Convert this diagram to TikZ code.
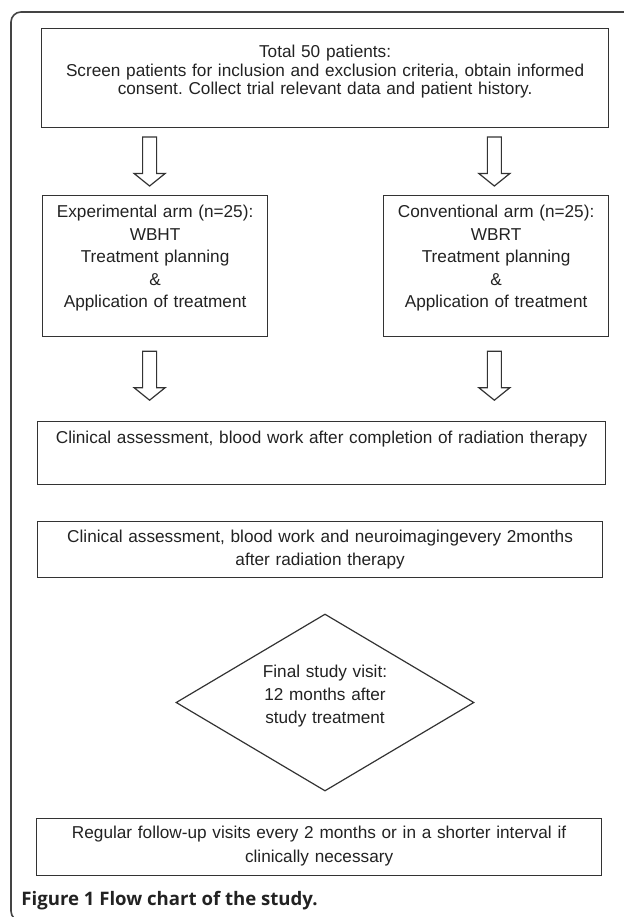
\documentclass[tikz,border=0pt]{standalone}
\usepackage{fontspec}
\setmainfont{Liberation Sans}
\newfontfamily\capfont{Open Sans}
\usetikzlibrary{shapes.geometric, calc}
\definecolor{linegray}{HTML}{333333}
\definecolor{textgray}{HTML}{222222}
\definecolor{framegray}{HTML}{444444}
\frenchspacing

\begin{document}
\begin{tikzpicture}[
    x=0.5pt, y=-0.5pt,
    box/.style={rectangle, draw=linegray, line width=0.6pt, align=center, inner sep=0pt, anchor=north west, text=textgray, font=\fontsize{8.6}{11.25}\selectfont},
    decision/.style={diamond, draw=linegray, line width=0.6pt, align=center, inner sep=0pt, aspect=1.68, minimum width=149pt, minimum height=88.5pt, text width=65pt, text=textgray, font=\fontsize{8.6}{11.5}\selectfont},
    hollow/.style={draw=linegray, line width=0.6pt, fill=white, to path={($(\tikztostart)+(-7,0)$) -- ($(\tikztotarget)+(-7,-12.5)$) -- ++(-8.5,0) -- (\tikztotarget) -- ($(\tikztotarget)+(15.5,-12.5)$) -- ++(-8.5,0) -- ($(\tikztostart)+(7,0)$) -- cycle}},
    frame/.style={draw=framegray, line width=0.8pt, rounded corners=5pt},
    caption/.style={font=\capfont\bfseries\fontsize{9.3}{11}\selectfont, text=textgray, inner sep=0pt, anchor=base west}
]
    \useasboundingbox (0,0) rectangle (624,917);

    % Outer frame
    \begin{scope}
        \clip (0,0) rectangle (624,917);
        \draw[frame] (630,12) -- (11,12) -- (11,921) -- (40,921);
    \end{scope}

    % Boxes
    \node[box, inner ysep=5.25pt, text width=283.5pt, text height=9.25pt, text depth=29.75pt, font=\fontsize{8.6}{9.25}\selectfont] (top) at (41,28) {Total 50 patients:\\Screen patients for inclusion and exclusion criteria, obtain informed\\consent. Collect trial relevant data and patient history.};
    \node[box, text width=112.5pt, text height=11.25pt, text depth=59.5pt] (exp) at (42,194.5) {Experimental arm (n=25):\\WBHT\\Treatment planning\\\&\\Application of treatment};
    \node[box, text width=112.5pt, text height=11.25pt, text depth=59.5pt] (conv) at (383,194.5) {Conventional arm (n=25):\\WBRT\\Treatment planning\\\&\\Application of treatment};
    \node[box, text width=284pt, text height=11pt, text depth=20.5pt] (clinA) at (37,421) {Clinical assessment, blood work after completion of radiation therapy};
    \node[box, text width=282.5pt, text height=10.5pt, text depth=17.5pt, font=\fontsize{8.6}{11.5}\selectfont] (clinB) at (37,521) {Clinical assessment, blood work and neuroimagingevery 2months\\after radiation therapy};
    \node[decision, text height=6pt, text depth=31.5pt] (final) at (325,702.5) {Final study visit:\\12 months after\\study treatment};
    \node[box, text width=282.5pt, text height=10pt, text depth=18.5pt, font=\fontsize{8.6}{12}\selectfont] (follow) at (36,818) {Regular follow-up visits every 2 months or in a shorter interval if\\clinically necessary};

    % Caption
    \node[caption] (cap) at (21,905) {Figure 1 Flow chart of the study.};

    % Arrow ends
    \coordinate (a1s) at ($(exp.north)+(-5.5,-57.5)$);
    \coordinate (a1e) at ($(exp.north)+(-5.5,-8.5)$);
    \coordinate (a2s) at ($(conv.north)+(-1.75,-57.5)$);
    \coordinate (a2e) at ($(conv.north)+(-1.75,-8.5)$);
    \coordinate (a3s) at ($(exp.south)+(-5.5,14)$);
    \coordinate (a3e) at ($(exp.south)+(-5.5,63)$);
    \coordinate (a4s) at ($(conv.south)+(-1.75,14)$);
    \coordinate (a4e) at ($(conv.south)+(-1.75,63)$);

    % Connections
    \draw[hollow] (a1s) to (a1e);
    \draw[hollow] (a2s) to (a2e);
    \draw[hollow] (a3s) to (a3e);
    \draw[hollow] (a4s) to (a4e);

\end{tikzpicture}
\end{document}
